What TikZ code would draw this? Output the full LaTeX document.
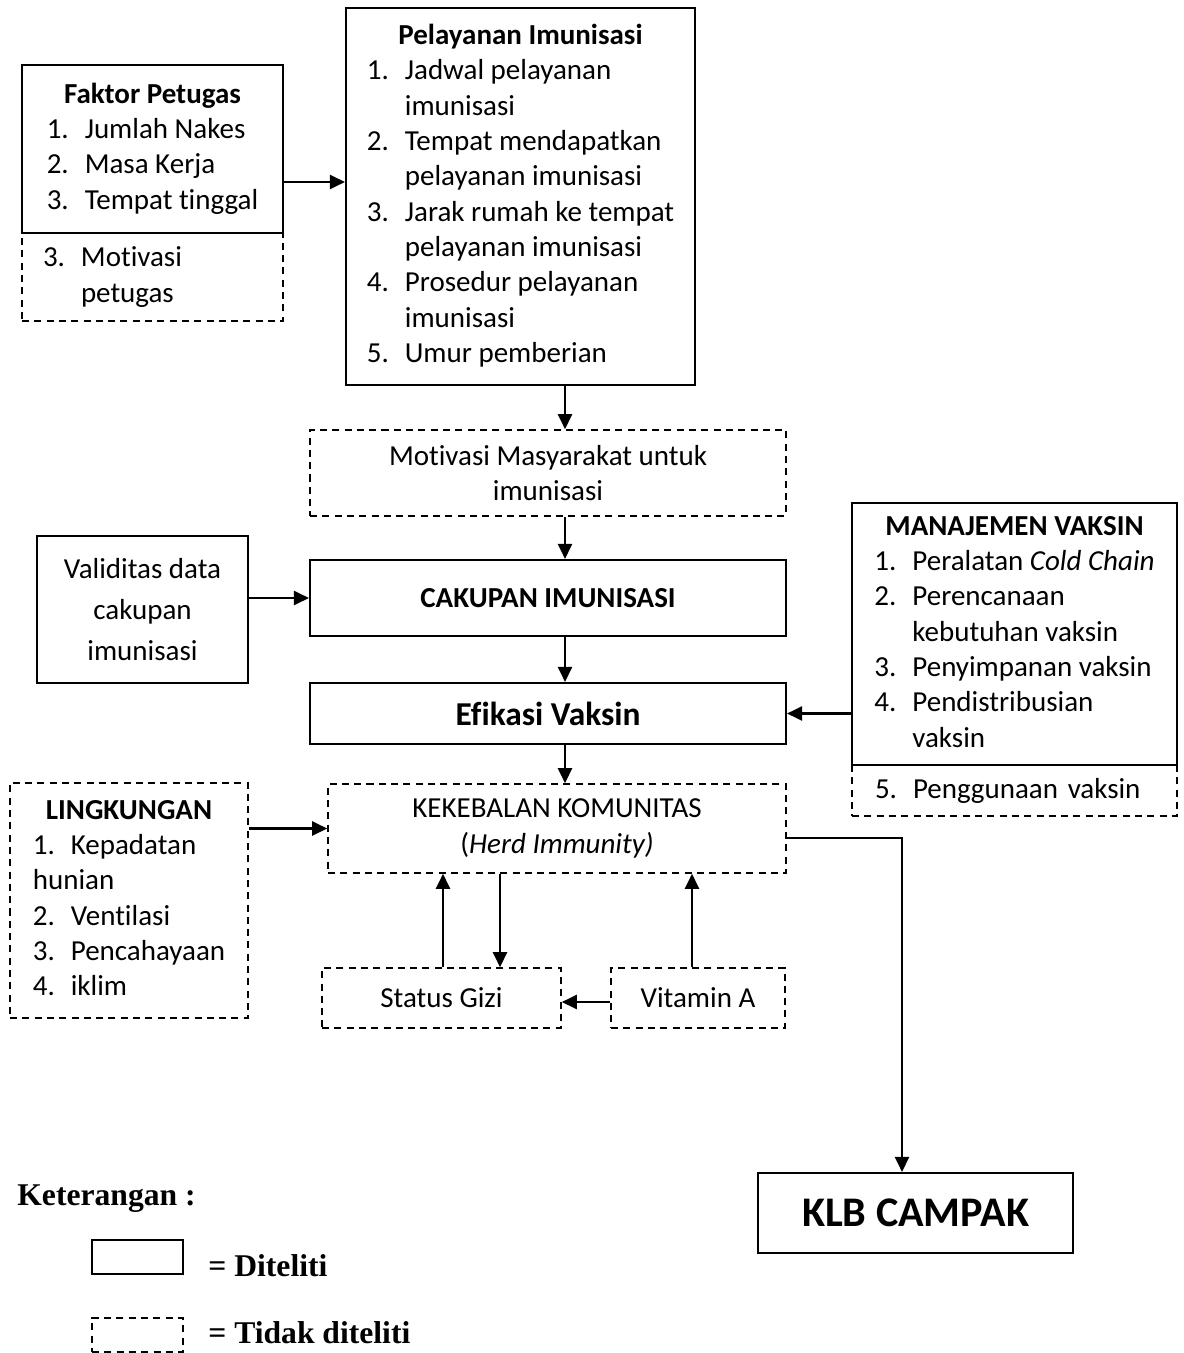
\documentclass[tikz,border=0pt]{standalone}
\usepackage{fontspec}
\setmainfont{Carlito}[Ligatures=NoCommon]
\newfontfamily\timesfont{Liberation Serif}
\usepackage{tikz}
\usetikzlibrary{arrows.meta, positioning}

\newcommand{\nm}[1]{\makebox[0.76cm][l]{#1}}

\tikzset{
	kotak/.style={draw, line width=1.2pt, inner sep=0pt, align=center, font=\fontsize{16.5}{20.1}\selectfont},
	kotakputus/.style={kotak, line width=0.9pt, dash pattern=on 4pt off 3pt},
	panah/.style={-{Triangle[length=0.3cm,width=0.28cm]}, line width=1.3pt},
	teks/.style={inner sep=0pt, anchor=base west, font=\fontsize{18}{22}\timesfont\bfseries}
}

\begin{document}
\begin{tikzpicture}
		\useasboundingbox (0,0) rectangle (23.66,-27.06);
		
		% kotak atas
		\node[kotak, minimum width=5.22cm, minimum height=3.36cm] (faktor) at (3.05,-2.98) {\begin{tabular}{@{}l@{}}
				\multicolumn{1}{c}{\textbf{Faktor Petugas}}\\
				\nm{1.}Jumlah Nakes\\
				\nm{2.}Masa Kerja\\
				\nm{3.}Tempat tinggal
			\end{tabular}};
		\node[kotakputus, minimum width=5.22cm, minimum height=1.76cm, text width=4.38cm, inner xsep=0.42cm, align=left] (faktorx) at (3.05,-5.54) {\nm{3.}Motivasi\\\nm{}petugas};
		
		\node[kotak, minimum width=6.98cm, minimum height=7.54cm] (pelayanan) at (10.41,-3.93) {\begin{tabular}{@{}l@{}}
				\multicolumn{1}{c}{\textbf{Pelayanan Imunisasi}}\\
				\nm{1.}Jadwal pelayanan\\
				\nm{}imunisasi\\
				\nm{2.}Tempat mendapatkan\\
				\nm{}pelayanan imunisasi\\
				\nm{3.}Jarak rumah ke tempat\\
				\nm{}pelayanan imunisasi\\
				\nm{4.}Prosedur pelayanan\\
				\nm{}imunisasi\\
				\nm{5.}Umur pemberian
			\end{tabular}};
		
		% kolom tengah
		\node[kotakputus, minimum width=9.52cm, minimum height=1.72cm] (motivasi) at (10.96,-9.46) {Motivasi Masyarakat untuk\\imunisasi};
		\node[kotak, minimum width=9.52cm, minimum height=1.52cm, font=\fontsize{16.5}{20.1}\selectfont\bfseries] (cakupan) at (10.96,-11.96) {CAKUPAN IMUNISASI};
		\node[kotak, minimum width=9.52cm, minimum height=1.22cm, font=\fontsize{19}{23}\selectfont\bfseries] (efikasi) at (10.96,-14.27) {Efikasi Vaksin};
		\node[kotakputus, minimum width=9.16cm, minimum height=1.78cm] (kekebalan) at (11.14,-16.57) {KEKEBALAN KOMUNITAS\\(\textit{Herd Immunity)}};
		\node[kotakputus, minimum width=4.78cm, minimum height=1.2cm] (gizi) at (8.83,-19.96) {Status Gizi};
		\node[kotakputus, minimum width=3.48cm, minimum height=1.2cm] (vitamin) at (13.96,-19.96) {Vitamin A};
		
		\node[kotak, minimum width=4.22cm, minimum height=2.94cm, font=\fontsize{16.5}{23.2}\selectfont] (validitas) at (2.85,-12.19) {Validitas data\\cakupan\\imunisasi};
		
		\node[kotak, minimum width=6.5cm, minimum height=5.24cm] (manajemen) at (20.29,-12.68) {\begin{tabular}{@{}l@{}}
				\multicolumn{1}{c}{\textbf{MANAJEMEN VAKSIN}}\\
				\nm{1.}Peralatan \textit{Cold Chain}\\
				\nm{2.}Perencanaan\\
				\nm{}kebutuhan vaksin\\
				\nm{3.}Penyimpanan vaksin\\
				\nm{4.}Pendistribusian\\
				\nm{}vaksin
			\end{tabular}};
		\node[kotakputus, minimum width=6.5cm, minimum height=1.02cm, text width=5.58cm, inner xsep=0.46cm, align=left] (manajemenx) at (20.29,-15.81) {\nm{5.}Penggunaan vaksin};
		
		\node[kotakputus, minimum width=4.76cm, minimum height=4.7cm] (lingkungan) at (2.58,-18.01) {\begin{tabular}{@{}l@{}}
				\multicolumn{1}{c}{\textbf{LINGKUNGAN}}\\
				\nm{1.}Kepadatan\\
				hunian\\
				\nm{2.}Ventilasi\\
				\nm{3.}Pencahayaan\\
				\nm{4.}iklim
			\end{tabular}};
		
		\node[kotak, minimum width=6.3cm, minimum height=1.6cm, font=\fontsize{24}{28}\selectfont\bfseries] (klb) at (18.31,-24.26) {KLB CAMPAK};
		
		% panah
		\coordinate (sumbu) at (11.3,0);
		\foreach \a/\b in {pelayanan/motivasi, motivasi/cakupan, cakupan/efikasi, efikasi/kekebalan}
		\draw[panah] (sumbu |- \a.south) -- (sumbu |- \b.north);
		
		\draw[panah] ([yshift=-0.66cm]faktor.east) -- ([yshift=-0.66cm]faktor.east -| pelayanan.west);
		\draw[panah] (validitas.east |- cakupan.west) -- (cakupan.west);
		\draw[panah] (manajemen.west |- efikasi.east) -- (efikasi.east);
		\draw[panah] (lingkungan.east |- kekebalan.west) -- (kekebalan.west);
		\draw[panah] ([yshift=-0.19cm]kekebalan.east) -| ([xshift=-0.27cm]klb.north);
		
		\draw[panah] ([xshift=0.03cm]gizi.north) -- ([xshift=0.03cm]gizi.north |- kekebalan.south);
		\draw[panah] ([xshift=1.17cm]gizi.north |- kekebalan.south) -- ([xshift=1.17cm]gizi.north);
		\draw[panah] ([xshift=-0.12cm]vitamin.north) -- ([xshift=-0.12cm]vitamin.north |- kekebalan.south);
		\draw[panah] ([yshift=-0.08cm]vitamin.west) -- ([yshift=-0.08cm]vitamin.west -| gizi.east);
		
		% keterangan
		\node[teks] (ket) at (0.34,-24.1) {Keterangan :};
		\node[kotak, line width=1pt, minimum width=1.82cm, minimum height=0.68cm] (legsatu) at (2.75,-25.14) {};
		\node[kotakputus, minimum width=1.82cm, minimum height=0.68cm] (legdua) at (2.75,-26.7) {};
		\node[teks] (ketsatu) at (4.16,-25.52) {= Diteliti};
		\node[teks] (ketdua) at (4.16,-26.86) {= Tidak diteliti};
\end{tikzpicture}
\end{document}
